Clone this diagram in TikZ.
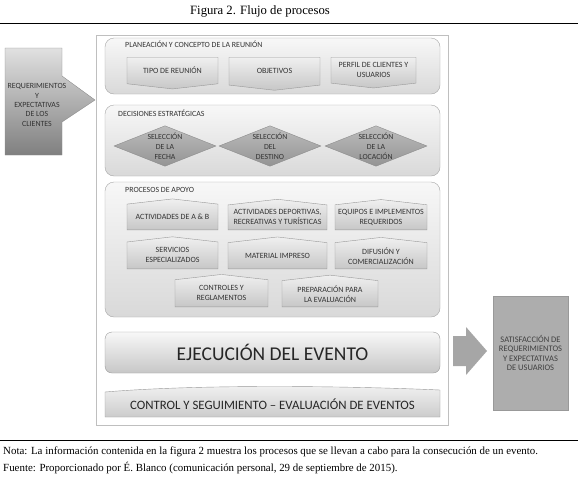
\documentclass[tikz,border=0pt]{standalone}
\usepackage{fontspec}
\setmainfont{Liberation Serif}
\newfontfamily\calibri{Carlito}
\usepackage{tikz}
\usetikzlibrary{shapes.geometric, shapes.symbols}

\begin{document}
\begin{tikzpicture}[x=1pt, y=-1pt,
                        seccion/.style={draw=black!35, rounded corners=9pt, top color=black!3, bottom color=black!15, minimum width=335pt},
                        titulo/.style={anchor=west, inner sep=0pt, text=black!80, font=\calibri\fontsize{7.9}{9}\selectfont},
                        caja/.style={signal, signal from=nothing, signal pointer angle=167, draw=black!40, top color=black!6, bottom color=black!22, minimum height=30pt, inner sep=1pt, align=center, text=black!80, font=\calibri\fontsize{8}{10}\selectfont},
                        rombo/.style={diamond, aspect=2.5, inner sep=0pt, draw=black!45, top color=black!26, bottom color=black!42, minimum width=102pt, minimum height=40pt, align=center, text=black!80, font=\calibri\fontsize{7.8}{10}\selectfont}]
                        \useasboundingbox (0,0) rectangle (578,477);
                        \node[font=\fontsize{12.7}{14}\selectfont] (titfig) at (260,11) {Figura 2. Flujo de procesos};
                        \draw[black, line width=0.8pt] (0,23) -- (578,23);
                        \node[draw=black!25, fill=white, minimum width=352pt, minimum height=390pt] (marco) at (272,230) {};
                        \path[draw=black!45, top color=black!12, bottom color=black!50] (5,48) -- (62,48) -- (62,76) -- (95,100) -- (62,122) -- (62,155) -- (5,155) -- cycle;
                        \node[align=center, text=black!80, font=\calibri\fontsize{7.9}{9.3}\selectfont] (requerimientos) at (37,105) {REQUERIMIENTOS\\Y\\EXPECTATIVAS\\DE LOS\\CLIENTES};
                        \node[seccion, minimum height=56pt] (planeacion) at (272.5,66) {};
                        \node[titulo] (titplaneacion) at (125,44) {PLANEACIÓN Y CONCEPTO DE LA REUNIÓN};
                        \node[caja, signal to=south, anchor=north, minimum width=91pt] (tipo) at (172.5,57) {TIPO DE REUNIÓN};
                        \node[caja, signal to=south, anchor=north, minimum width=91pt] (objetivos) at (274.5,57) {OBJETIVOS};
                        \node[caja, signal to=south, anchor=north, minimum width=85pt] (perfil) at (373.5,57) {PERFIL DE CLIENTES Y\\USUARIOS};
                        \node[seccion, minimum height=71pt] (decisiones) at (272.5,140.5) {};
                        \node[titulo] (titdecisiones) at (118,113) {DECISIONES ESTRATÉGICAS};
                        \node[rombo] (fecha) at (165,146) {SELECCIÓN\\DE LA\\FECHA};
                        \node[rombo] (destino) at (270,146) {SELECCIÓN\\DEL\\DESTINO};
                        \node[rombo] (locacion) at (376,146) {SELECCIÓN\\DE LA\\LOCACIÓN};
                        \node[seccion, minimum height=135pt] (apoyo) at (272.5,249.5) {};
                        \node[titulo] (titapoyo) at (125,190) {PROCESOS DE APOYO};
                        \node[caja, signal to=north, anchor=south, minimum width=91pt] (ayb) at (172.5,230) {ACTIVIDADES DE A \& B};
                        \node[caja, signal to=north, anchor=south, minimum width=99pt] (deportivas) at (277.5,230) {ACTIVIDADES DEPORTIVAS,\\RECREATIVAS Y TURÍSTICAS};
                        \node[caja, signal to=north, anchor=south, minimum width=92pt] (equipos) at (381,230) {EQUIPOS E IMPLEMENTOS\\REQUERIDOS};
                        \node[caja, signal to=north, anchor=south, minimum width=91pt] (servicios) at (172.5,269) {SERVICIOS\\ESPECIALIZADOS};
                        \node[caja, signal to=north, anchor=south, minimum width=99pt] (material) at (277.5,269) {MATERIAL IMPRESO};
                        \node[caja, signal to=north, anchor=south, minimum width=92pt] (difusion) at (381,269) {DIFUSIÓN Y\\COMERCIALIZACIÓN};
                        \node[caja, signal to=north, anchor=south, minimum width=93pt] (controles) at (221.5,307) {CONTROLES Y\\REGLAMENTOS};
                        \node[caja, signal to=north, anchor=south, minimum width=96pt] (preparacion) at (330,307) {PREPARACIÓN PARA\\LA EVALUACIÓN};
                        \node[draw=black!40, rounded corners=7pt, top color=black!3, bottom color=black!22, minimum width=335pt, minimum height=41pt, text=black!85, font=\calibri\fontsize{19.5}{22}\selectfont] (ejecucion) at (272.5,352.5) {EJECUCIÓN DEL EVENTO};
                        \path[draw=black!40, top color=black!5, bottom color=black!20] (105,392) .. controls (200,384) and (350,386) .. (440,390) -- (440,417) -- (105,417) -- cycle;
                        \node[text=black!85, font=\calibri\fontsize{12.8}{15}\selectfont] (control) at (272.5,404) {CONTROL Y SEGUIMIENTO – EVALUACIÓN DE EVENTOS};
                        \path[fill=black!35] (453,336) -- (466,336) -- (466,327) -- (487,351) -- (466,375) -- (466,366) -- (453,366) -- cycle;
                        \node[draw=black!40, fill=black!32, minimum width=75pt, minimum height=114pt, align=center, text=black!75, font=\calibri\fontsize{8.5}{9.5}\selectfont] (satisfaccion) at (530.5,353) {SATISFACCIÓN DE\\REQUERIMIENTOS\\Y EXPECTATIVAS\\DE USUARIOS};
                        \draw[black, line width=0.8pt] (0,440) -- (578,440);
                        \node[anchor=west, inner sep=0pt, font=\fontsize{10.9}{12}\selectfont] (nota) at (3,452) {Nota: La información contenida en la figura 2 muestra los procesos que se llevan a cabo para la consecución de un evento.};
                        \node[anchor=west, inner sep=0pt, font=\fontsize{10.9}{12}\selectfont] (fuente) at (3,468) {Fuente: Proporcionado por É. Blanco (comunicación personal, 29 de septiembre de 2015).};
                    \end{tikzpicture}
\end{document}
